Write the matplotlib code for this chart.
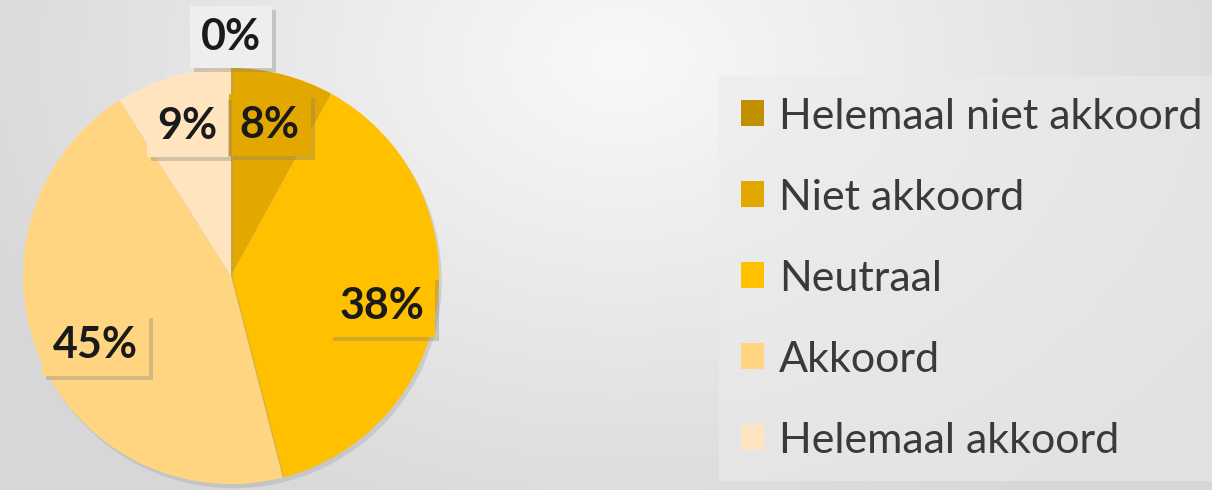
import numpy as np
import matplotlib
matplotlib.use("Agg")
import matplotlib.pyplot as plt
import matplotlib.patheffects as pe

categories = ["Helemaal niet akkoord", "Niet akkoord", "Neutraal", "Akkoord", "Helemaal akkoord"]
percentages = [0, 8, 38, 45, 9]
colors = ["#BF8F00", "#E3A800", "#FFC000", "#FFD581", "#FFE4BF"]
label_radius = [1.15, 0.75, 0.73, 0.71, 0.75]
label_dy = [0.0, 0.0, -0.055, -0.05, 0.0]
label_bg = ["#EEEEEE", "#E3A800", "#FFC000", "#FFD581", "#FFE4BF"]

W, H = 1212, 490
fig = plt.figure(figsize=(W / 100, H / 100), dpi=100)

# radial grey background
bg = fig.add_axes([0, 0, 1, 1])
yy, xx = np.mgrid[0:H, 0:W]
d = np.sqrt(((xx - 620) / 700.0) ** 2 + ((yy - 60) / 520.0) ** 2)
d = np.clip(d, 0, 1)
shade = 0.975 - 0.13 * d
bg.imshow(np.dstack([shade, shade, shade]), extent=[0, W, H, 0], aspect="auto")
bg.set_axis_off()

# pie: centre (231, 276) px, radius 208 px
cx, cy, r = 231, 276, 208
ax = fig.add_axes([(cx - r) / W, (H - cy - r) / H, 2 * r / W, 2 * r / H])
ax.set_facecolor("none")
wedges, _ = ax.pie(percentages, colors=colors, startangle=90, counterclock=False,
                   radius=1, wedgeprops=dict(linewidth=0))
for w in wedges:
    w.set_path_effects([pe.SimplePatchShadow(offset=(2, -3), shadow_rgbFace="#999999", alpha=0.3),
                        pe.Normal()])
ax.set_xlim(-1, 1)
ax.set_ylim(-1, 1)
ax.set_aspect("equal")
ax.set_axis_off()

for w, p, lr, dy, bgc in zip(wedges, percentages, label_radius, label_dy, label_bg):
    ang = np.deg2rad((w.theta1 + w.theta2) / 2)
    x, y = lr * np.cos(ang), lr * np.sin(ang) + dy
    t = ax.text(x, y, f"{p}%", ha="center", va="center", fontsize=31, fontweight="bold",
                family="Lato", color="#1a1a1a", clip_on=False,
                bbox=dict(boxstyle="square,pad=0.25", facecolor=bgc, edgecolor="none"))
    t.get_bbox_patch().set_path_effects([
        pe.SimplePatchShadow(offset=(3, -3), shadow_rgbFace="#777777", alpha=0.3),
        pe.Normal()])

leg = fig.legend(wedges, categories, loc="upper left",
                 bbox_to_anchor=(719 / W, 1 - 76 / H),
                 prop=dict(family="Lato", size=31), labelcolor="#3a3a3a",
                 frameon=True, fancybox=False, facecolor="#EBEBEB", edgecolor="none",
                 framealpha=0.6, handlelength=0.55, handleheight=0.55,
                 handletextpad=0.35, labelspacing=1.0, borderpad=0.5,
                 borderaxespad=0)
for h in leg.legend_handles:
    h.set_path_effects([])

fig.savefig("out.png", dpi=100)
